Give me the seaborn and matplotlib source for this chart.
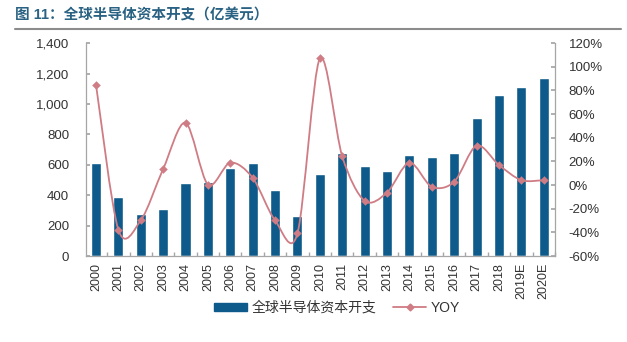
import matplotlib
matplotlib.use("Agg")
import matplotlib.pyplot as plt
import seaborn as sns
import numpy as np
import pandas as pd
from matplotlib.path import Path
from matplotlib.patches import PathPatch
from matplotlib.lines import Line2D
from matplotlib.patches import Patch
from matplotlib.ticker import FuncFormatter, MultipleLocator

years = ["2000", "2001", "2002", "2003", "2004", "2005", "2006", "2007", "2008", "2009",
         "2010", "2011", "2012", "2013", "2014", "2015", "2016", "2017", "2018", "2019E", "2020E"]
capex = [615, 390, 278, 313, 480, 484, 580, 613, 436, 267,
         543, 676, 591, 558, 664, 652, 675, 905, 1058, 1110, 1170]
yoy = [85, -37.7, -29.8, 13.6, 52.7, 0.5, 19, 6.2, -29.8, -40.8,
       107, 24.3, -13.3, -6.3, 19, -1.4, 2.8, 33.4, 17, 4.2, 4.2]

bar_label = "全球半导体资本开支"
line_label = "YOY"
title = "图 11：全球半导体资本开支（亿美元）"

sns.set_theme(style="white")
plt.rcParams['font.family'] = ['Liberation Sans', 'Noto Sans CJK SC', 'DejaVu Sans']

bar_color = "#0e5a8a"
line_color = "#cf7c85"
axis_color = "#a6a6a6"
text_color = "#333333"

fig = plt.figure(figsize=(6.27, 3.42), dpi=100)
ax = fig.add_axes([0.137, 0.251, 0.748, 0.623])

df = pd.DataFrame({"year": years, "capex": capex, "yoy": yoy})
sns.barplot(data=df, x="year", y="capex", color=bar_color, width=0.45, ax=ax,
            saturation=1)
ax.set_xlim(-0.45, len(years) - 1 + 0.45)
ax.set_ylim(0, 1400)
ax.yaxis.set_major_locator(MultipleLocator(200))
ax.yaxis.set_major_formatter(FuncFormatter(lambda v, p: f"{int(v):,}"))
ax.set_xlabel("")
ax.set_ylabel("")

ax2 = ax.twinx()
ax2.set_ylim(-60, 120)
ax2.yaxis.set_major_locator(MultipleLocator(20))
ax2.yaxis.set_major_formatter(FuncFormatter(lambda v, p: f"{int(round(v))}%"))

# smoothed line (Excel-style Bezier smoothing through data points)
xs = np.arange(len(yoy), dtype=float)
ys = np.array(yoy, dtype=float)
n = len(xs)
verts = [(xs[0], ys[0])]
codes = [Path.MOVETO]
for i in range(n - 1):
    p0 = np.array([xs[max(i - 1, 0)], ys[max(i - 1, 0)]])
    p1 = np.array([xs[i], ys[i]])
    p2 = np.array([xs[i + 1], ys[i + 1]])
    p3 = np.array([xs[min(i + 2, n - 1)], ys[min(i + 2, n - 1)]])
    c1 = p1 + (p2 - p0) / 6.5
    c2 = p2 - (p3 - p1) / 6.5
    verts += [tuple(c1), tuple(c2), tuple(p2)]
    codes += [Path.CURVE4] * 3
patch = PathPatch(Path(verts, codes), facecolor="none", edgecolor=line_color, lw=1.3)
ax2.add_patch(patch)
sns.scatterplot(x=xs, y=ys, marker="D", s=16, color=line_color, edgecolor=line_color,
                ax=ax2, legend=False, zorder=5)

for a in (ax, ax2):
    a.spines["top"].set_visible(False)
    for s in ["left", "right", "bottom"]:
        a.spines[s].set_color(axis_color)
        a.spines[s].set_linewidth(0.9)
ax2.spines["left"].set_visible(False)
ax2.spines["bottom"].set_visible(False)
ax.spines["right"].set_visible(False)
ax2.spines["right"].set_visible(True)

ax.tick_params(axis="y", direction="in", length=3, color=axis_color, labelsize=9.5,
               labelcolor=text_color, pad=12, left=True)
ax2.tick_params(axis="y", direction="in", length=3, color=axis_color, labelsize=9.5,
                labelcolor=text_color, pad=10, right=True)
ax.tick_params(axis="x", direction="in", length=0, labelsize=9, labelcolor=text_color,
               rotation=90, pad=5)
ax.set_xticks(np.arange(len(years)) + 0.5, minor=True)
ax.tick_params(axis="x", which="minor", direction="in", length=3, color=axis_color, bottom=True)
ax.grid(False)
ax2.grid(False)

handles = [Patch(facecolor=bar_color, edgecolor=bar_color),
           Line2D([0], [0], color=line_color, lw=1.3, marker="D", markersize=3.5)]
fig.legend(handles, [bar_label, line_label], loc="center", bbox_to_anchor=(0.537, 0.1),
           ncol=2, frameon=False, fontsize=10, handlelength=2.4, handleheight=0.45,
           columnspacing=1.2, labelcolor=text_color, handletextpad=0.3)

fig.text(0.024, 0.955, title, fontsize=10.5, color="#2a6283", fontweight="bold",
         va="center", ha="left")
fig.add_artist(Line2D([0.024, 0.99], [0.915, 0.915], color="#8c8c8c", lw=1.5,
                      transform=fig.transFigure))

fig.savefig("out.png", dpi=100)
